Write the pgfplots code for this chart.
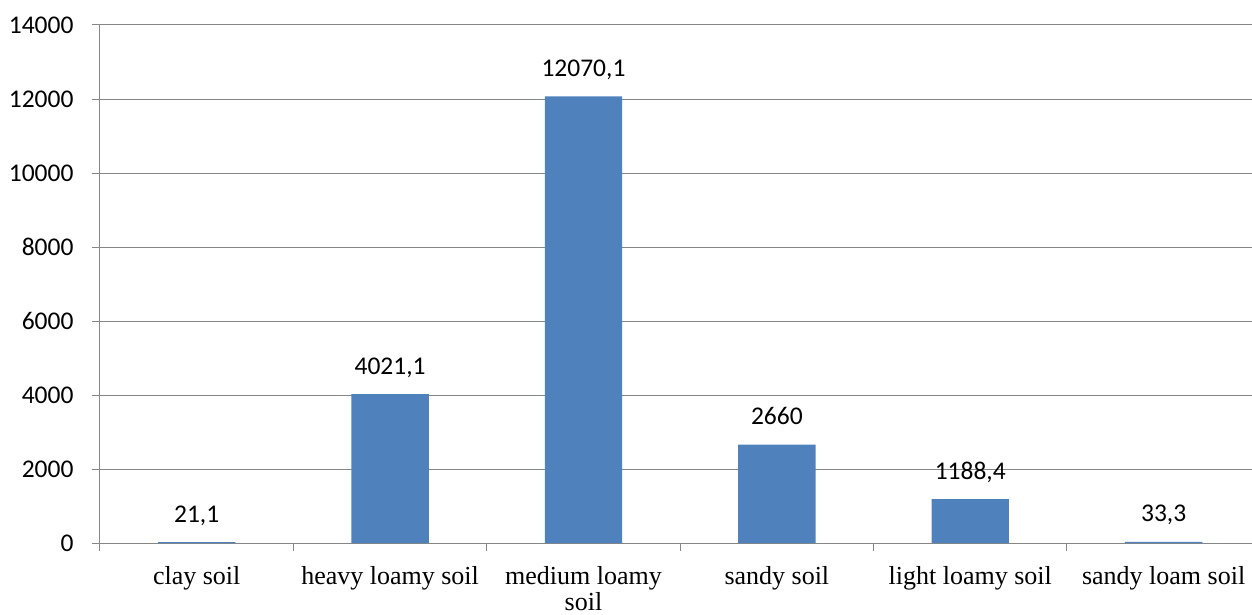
\documentclass[border=0pt]{standalone}
\usepackage{pgfplots}
\pgfplotsset{compat=1.18}
\usepackage{pgfplotstable}
\usepackage{fontspec}
\setmainfont{Liberation Serif}
\newfontfamily\calibri{Carlito}
\definecolor{barblue}{HTML}{4F81BD}
\definecolor{gridgray}{HTML}{868686}

\pgfplotstableread[col sep=comma]{
x,y,lbl
0,21.1,{21,1}
1,4021.1,{4021,1}
2,12070.1,{12070,1}
3,2660,{2660}
4,1188.4,{1188,4}
5,33.3,{33,3}
}\soil

\begin{document}
\begin{tikzpicture}
\begin{axis}[
    scale only axis,
    width=1152pt, height=518pt,
    xmin=-0.5, xmax=5.457,
    ymin=0, ymax=14000,
    axis lines*=left,
    axis line style={gridgray, line width=1pt},
    ytick={0,2000,...,14000},
    scaled y ticks=false,
    ymajorgrids,
    grid style={gridgray, line width=1pt},
    tick align=outside,
    major tick length=8pt,
    minor tick length=8pt,
    tick style={gridgray, line width=1pt},
    xtick={0,...,5},
    xticklabels={clay soil, heavy loamy soil, medium loamy\\soil, sandy soil, light loamy soil, sandy loam soil},
    major x tick style={draw=none},
    minor xtick={-0.5,0.5,1.5,2.5,3.5,4.5},
    xticklabel style={font=\fontsize{26}{26}\selectfont, align=center, anchor=north, yshift=-12pt},
    yticklabel style={font=\calibri\fontsize{25.5}{30}\selectfont, anchor=east, xshift=-15pt},
    /pgf/number format/assume math mode=true,
    /pgf/number format/1000 sep={},
    ybar,
    bar width=0.4,
    point meta=explicit symbolic,
    nodes near coords,
    nodes near coords style={font=\calibri\fontsize{25.5}{30}\selectfont, anchor=base, inner sep=0pt, yshift=20pt, text=black},
    clip=false,
]
\addplot[fill=barblue, draw=none] table[x=x, y=y, meta=lbl] {\soil};
\end{axis}
\pgfresetboundingbox
\path (-100pt,-71pt) rectangle (1152pt,543pt);
\end{tikzpicture}
\end{document}
